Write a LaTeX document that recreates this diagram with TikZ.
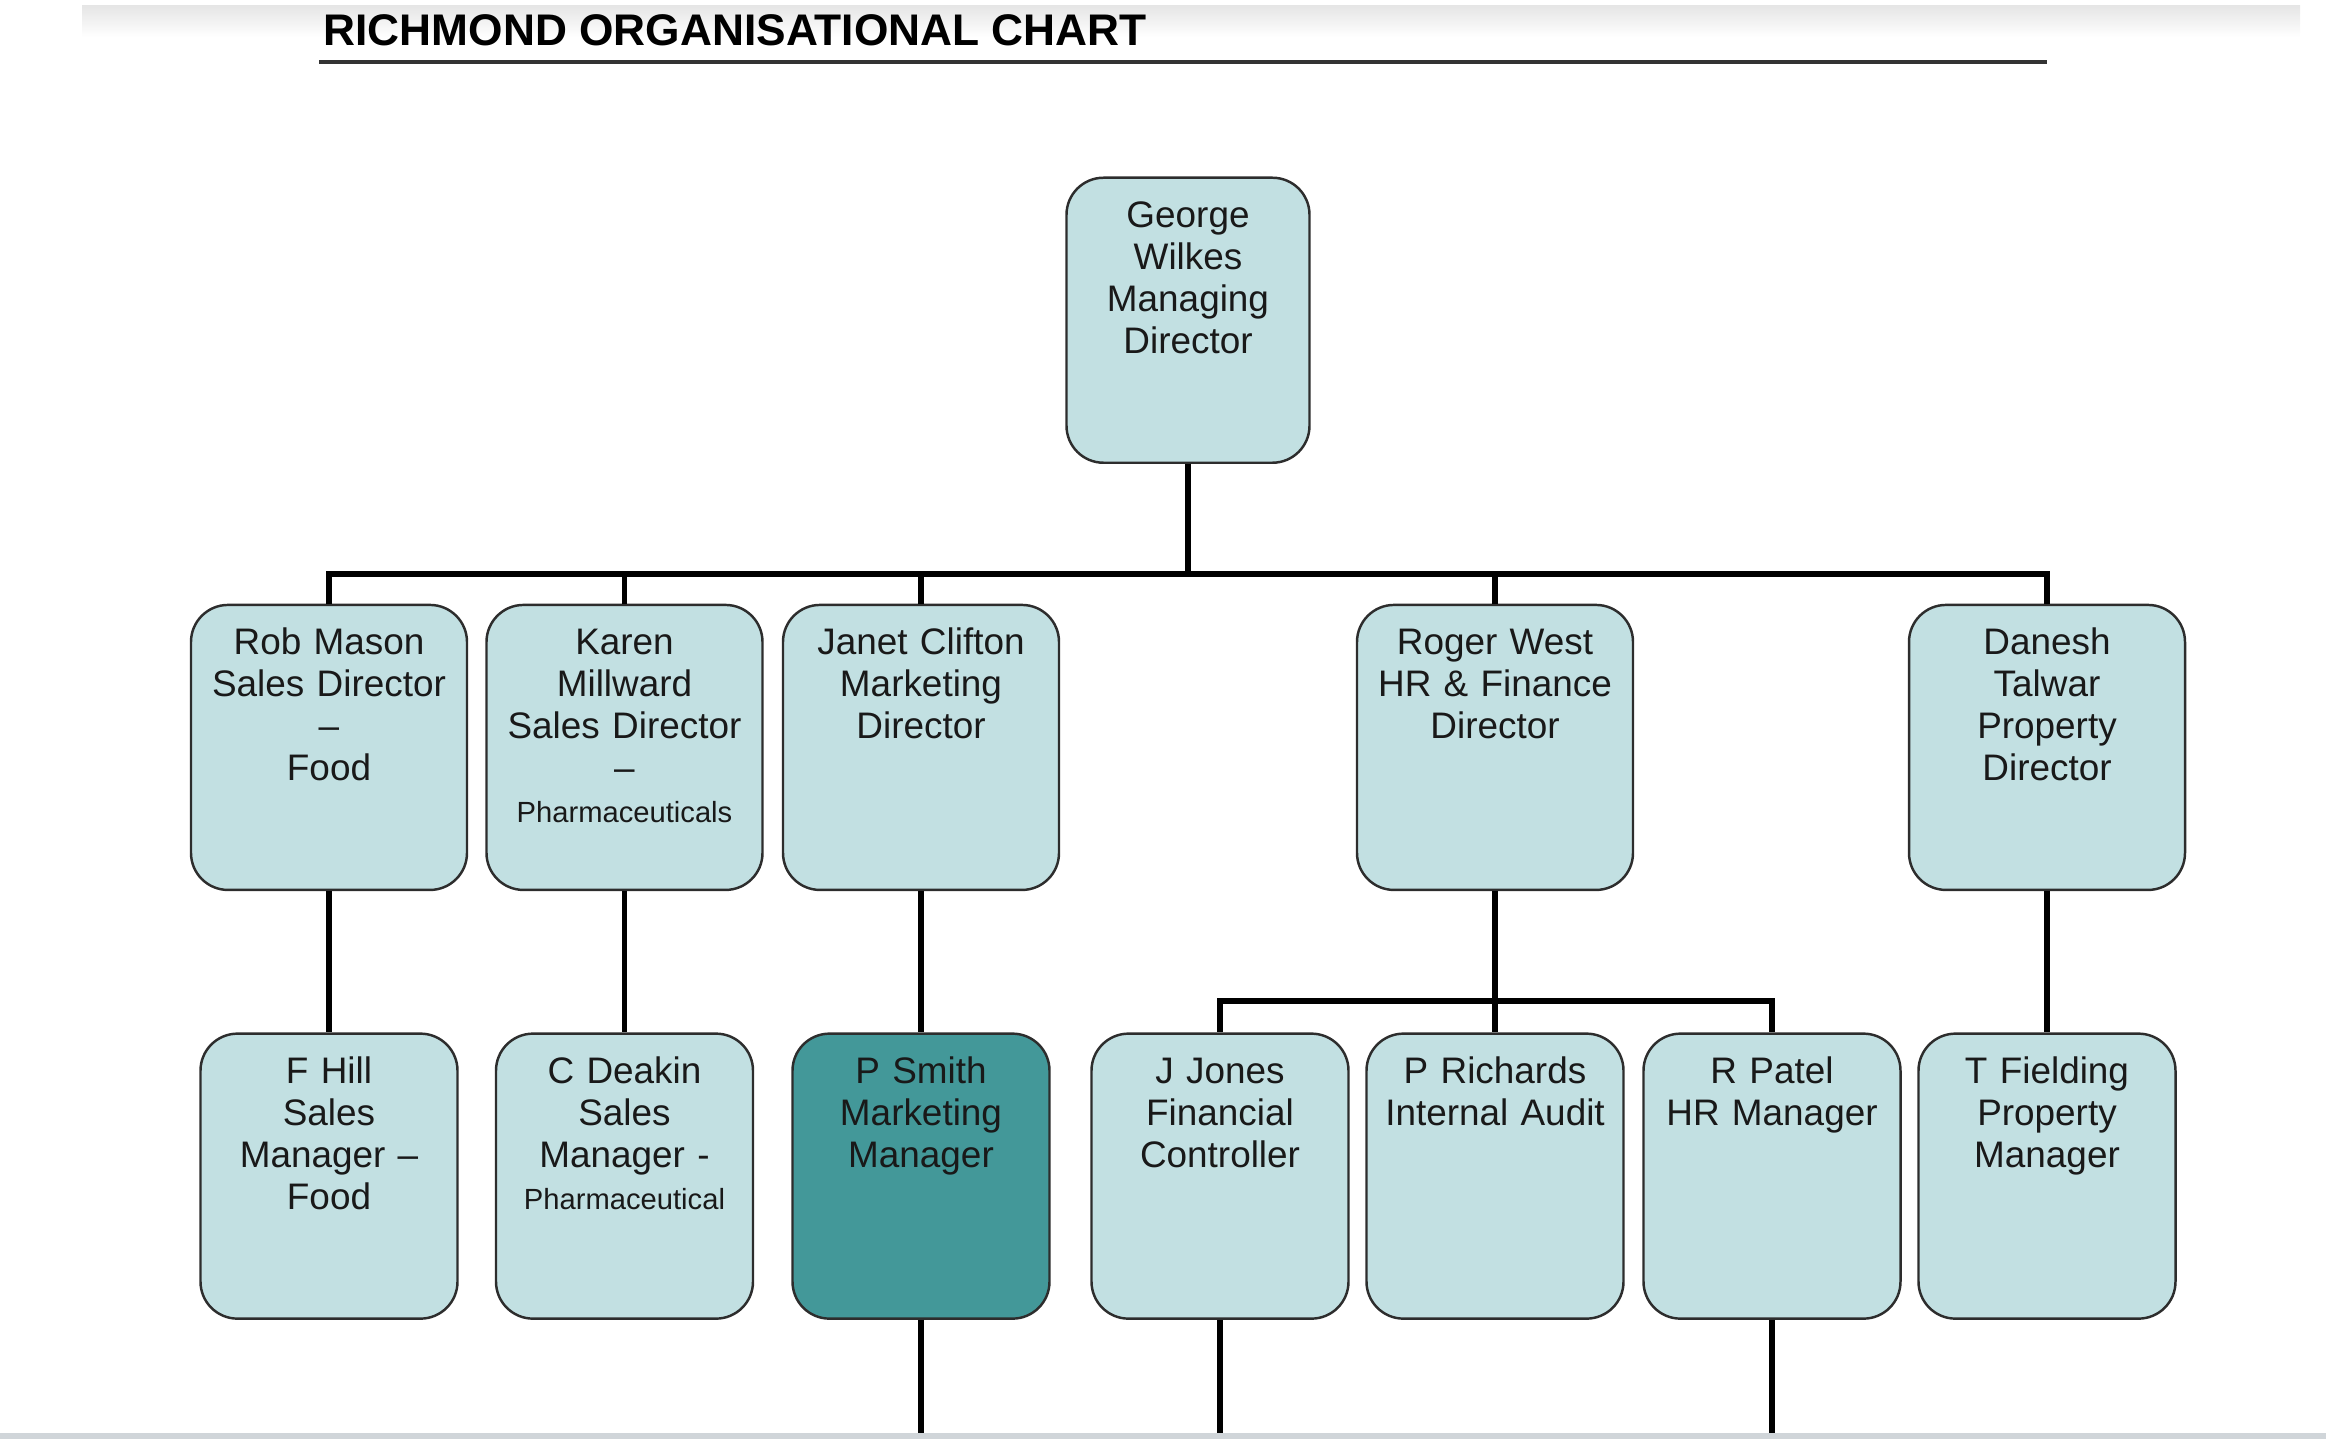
\documentclass[tikz,border=0pt]{standalone}
\usepackage{fontspec}
\setmainfont{Liberation Sans}
\usepackage{xcolor}
\usepackage{tikz}
\usetikzlibrary{positioning,calc}

\definecolor{boxblue}{RGB}{194,224,226}
\definecolor{boxteal}{RGB}{67,152,153}
\definecolor{edgegray}{RGB}{45,45,45}
\definecolor{stripgray}{RGB}{208,213,217}

\newcommand{\smalltxt}[1]{{\fontsize{8.3}{9.5}\selectfont #1}}

\begin{document}
\begin{tikzpicture}[
    person/.style={draw=edgegray, line width=0.7pt, fill=boxblue, rounded corners=0.37cm, anchor=north,
        align=center, inner sep=0pt, text height=0.5cm, text depth=2.35cm,
        font=\fontsize{10.5}{11.9}\selectfont, text=black!90},
    headbox/.style={person, text width=2.43cm},
    dirbox/.style={person, text width=2.76cm},
    mgrbox/.style={person, text width=2.57cm},
    link/.style={line width=1.6pt},
]
\useasboundingbox (0,0) rectangle (23.26,14.39);

% Page edges
\shade[top color=black!10, bottom color=white] (0.82,14.33) rectangle (23.0,14.02);
\fill[stripgray] (0,0) rectangle (23.26,0.06);
\coordinate (pagefoot) at (0,0.06);

% Title
\node[font=\fontsize{12.6}{14}\selectfont\bfseries, anchor=base west, inner sep=0pt] (title) at (3.23,13.93) {RICHMOND ORGANISATIONAL CHART};
\draw[line width=0.9pt, black!80] (3.19,13.77) -- (20.47,13.77);

% Managing director
\node[headbox] (md) at (11.88,12.625) {George\\Wilkes\\Managing\\Director};

% Directors
\node[dirbox] (rm) at (3.29,8.353) {Rob Mason\\Sales Director\\--\\Food};
\node[dirbox] (km) at (6.245,8.353) {Karen\\Millward\\Sales Director\\--\\\smalltxt{Pharmaceuticals}};
\node[dirbox] (jc) at (9.21,8.353) {Janet Clifton\\Marketing\\Director};
\node[dirbox] (rw) at (14.95,8.353) {Roger West\\HR \& Finance\\Director};
\node[dirbox] (dt) at (20.47,8.353) {Danesh\\Talwar\\Property\\Director};

% Managers
\node[mgrbox] (fh) at (3.29,4.066) {F Hill\\Sales\\Manager --\\Food};
\node[mgrbox] (cd) at (6.245,4.066) {C Deakin\\Sales\\Manager -\\\smalltxt{Pharmaceutical}};
\node[mgrbox, fill=boxteal] (ps) at (9.21,4.066) {P Smith\\Marketing\\Manager};
\node[mgrbox] (jj) at (12.2,4.066) {J Jones\\Financial\\Controller};
\node[mgrbox] (pr) at (14.95,4.066) {P Richards\\Internal Audit};
\node[mgrbox] (rp) at (17.72,4.066) {R Patel\\HR Manager};
\node[mgrbox] (tf) at (20.47,4.066) {T Fielding\\Property\\Manager};

% Lines from the managing director
\coordinate (mdbus) at ($(md.south)+(0,-1.1)$);
\foreach \d in {rm,km,jc,rw,dt}
    \draw[link] (md.south) -- (mdbus) -| (\d.north);

% Lines from the directors
\draw[link] (rm.south) -- (fh.north);
\draw[link] (km.south) -- (cd.north);
\draw[link] (jc.south) -- (ps.north);
\draw[link] (dt.south) -- (tf.north);
\coordinate (rwbus) at ($(rw.south)+(0,-1.1)$);
\foreach \m in {jj,pr,rp}
    \draw[link] (rw.south) -- (rwbus) -| (\m.north);

% Lines running off the page
\foreach \m in {ps,jj,rp}
    \draw[link] (\m.south) -- (\m.south |- pagefoot);

\end{tikzpicture}
\end{document}
